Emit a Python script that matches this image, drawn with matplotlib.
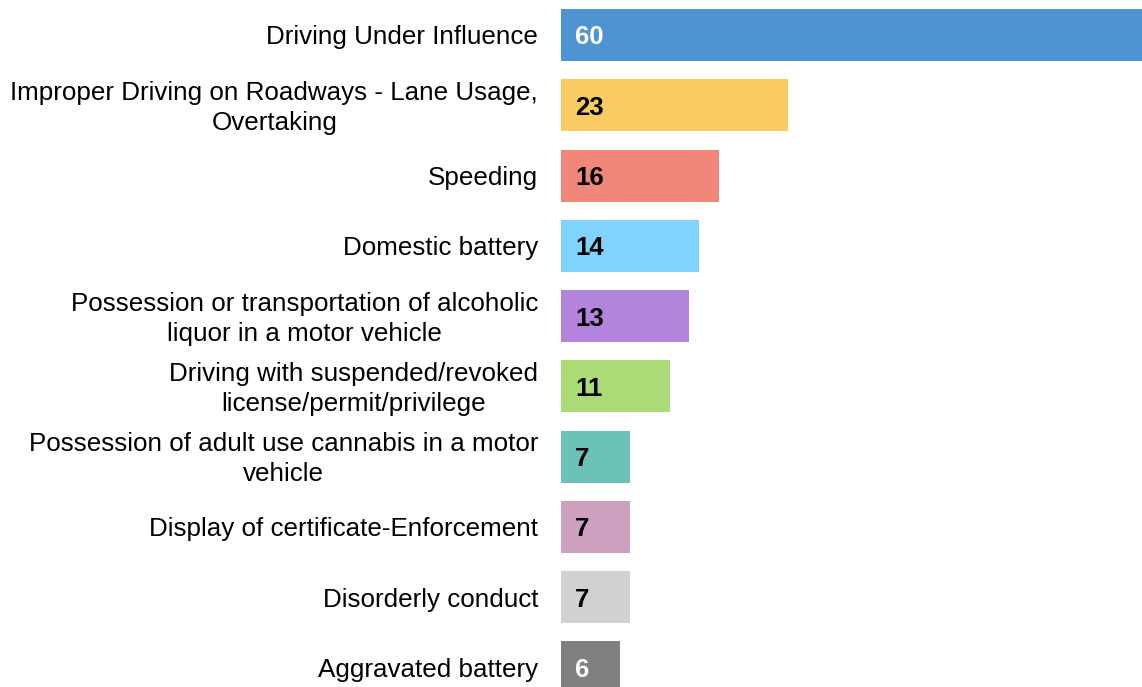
import matplotlib.pyplot as plt
from matplotlib.transforms import ScaledTranslation

plt.rcParams['font.family'] = ['Liberation Sans', 'DejaVu Sans']

categories = [
    'Driving Under Influence',
    'Improper Driving on Roadways - Lane Usage,\nOvertaking',
    'Speeding',
    'Domestic battery',
    'Possession or transportation of alcoholic\nliquor in a motor vehicle',
    'Driving with suspended/revoked\nlicense/permit/privilege',
    'Possession of adult use cannabis in a motor\nvehicle',
    'Display of certificate-Enforcement',
    'Disorderly conduct',
    'Aggravated battery',
]
counts = [60, 23, 16, 14, 13, 11, 7, 7, 7, 6]
colors = ['#4e94d3', '#f7cb61', '#f08779', '#80d3fc', '#b384de',
          '#abdb76', '#6cc1b8', '#cea0bf', '#d2d1d2', '#808080']
label_colors = ['white', 'black', 'black', 'black', 'black',
                'black', 'black', 'black', 'black', 'white']

fig = plt.figure(figsize=(11.42, 6.87), dpi=100)
ax = fig.add_axes([561 / 1142, 0, 581 / 1142, 1])

y = list(range(len(categories)))
ax.barh(y, counts, height=0.74, color=colors, edgecolor='none')

for i, (v, c) in enumerate(zip(counts, label_colors)):
    ax.text(1.42, i, str(v), color=c, fontsize=18.5, fontweight='bold',
            ha='left', va='center_baseline')

# the 60 bar runs off the right edge in the original
ax.set_xlim(0, 58.9)
ax.set_ylim(9.28, -0.498)
ax.set_yticks(y)
ax.set_yticklabels(categories, fontsize=18.7, multialignment='center',
                   linespacing=1.33)
ax.tick_params(axis='y', length=0, pad=16.5)
ax.set_xticks([])
for s in ax.spines.values():
    s.set_visible(False)

# nudge two-line labels up a bit so they sit centred on the bar
shift = ScaledTranslation(0, 3 / 100, fig.dpi_scale_trans)
for lbl in ax.get_yticklabels():
    if '\n' in lbl.get_text():
        lbl.set_transform(lbl.get_transform() + shift)

fig.savefig('out.png', dpi=100)
